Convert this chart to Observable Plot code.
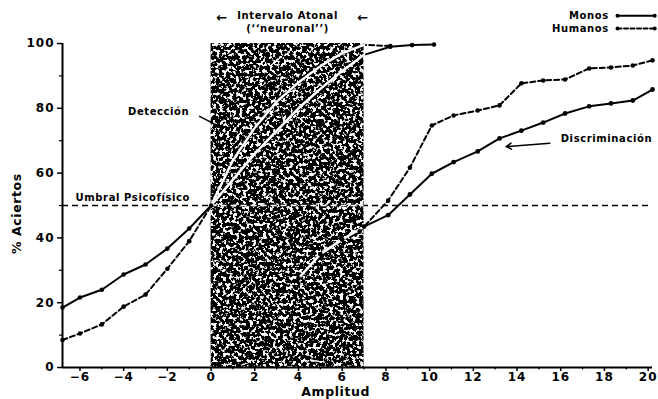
<!DOCTYPE html>
<html>
<head>
<meta charset="utf-8">
<script src="https://cdn.jsdelivr.net/npm/d3@7"></script>
<script src="https://cdn.jsdelivr.net/npm/@observablehq/plot@0.6"></script>
<style>
  html, body { margin: 0; padding: 0; background: #fff; }
  svg { display: block; }
  svg text { letter-spacing: 0.6px; }
  svg g[aria-label="x-axis tick label"] text, svg g[aria-label="y-axis tick label"] text { letter-spacing: 1px; }
</style>
</head>
<body>
<div id="chart"></div>
<script>
// ---- Data ----
const atonalInterval = [0, 7];
const threshold = 50;

const detAmp      = [-6.8, -6, -5, -4, -3, -2, -1, 0, 1, 2, 3, 4, 5, 6, 7, 8.2, 9.2, 10.2];
const detMonos    = [18.5, 21.6, 24, 28.7, 31.8, 36.7, 42.9, 50, 58, 66, 73, 80, 86, 91.5, 96.5, 99, 99.5, 99.7];
const detHumAmp   = [-6.8, -6, -5, -4, -3, -2, -1, 0, 1, 2, 3, 4, 5, 6, 7, 8.2];
const detHumanos  = [8.5, 10.5, 13.3, 18.8, 22.5, 30.5, 39, 50, 64, 74, 82, 88, 93, 97, 99.6, 99.2];

const disAmp      = [4, 5, 6, 7, 8.1, 9.1, 10.1, 11.1, 12.2, 13.2, 14.2, 15.2, 16.2, 17.3, 18.3, 19.3, 20.2];
const disMonos    = [27.5, 35, 39.5, 43.5, 47, 53.4, 59.8, 63.4, 66.7, 70.7, 73.1, 75.6, 78.4, 80.6, 81.5, 82.4, 85.8];
const disHumAmp   = [6.8, 8.1, 9.1, 10.1, 11.1, 12.2, 13.2, 14.2, 15.2, 16.2, 17.3, 18.3, 19.3, 20.2];
const disHumanos  = [42, 51.5, 61.7, 74.7, 77.8, 79.3, 80.9, 87.7, 88.6, 88.9, 92.3, 92.6, 93.2, 94.8];

const xTicks = [-6, -4, -2, 0, 2, 4, 6, 8, 10, 12, 14, 16, 18, 20];
const xMinorTicks = [-5, -3, -1, 1, 3, 5, 7, 9, 11, 13, 15, 17, 19];
const yTicks = [0, 20, 40, 60, 80, 100];
const yMinorTicks = [10, 30, 50, 70, 90];

const notes = [
  {text: "Detección", x: -2.4, y: 79, anchor: "middle"},
  {text: "Umbral Psicofísico", x: -6.2, y: 52.5, anchor: "start"},
  {text: "Discriminación", x: 16.0, y: 70.7, anchor: "start"}
];
const headerLines = [
  {text: "Intervalo Atonal", x: 3.5, y: 108.6},
  {text: "(‘‘neuronal’’)", x: 3.5, y: 104.6}
];
const headerArrows = [{x: 0.5, y: 107.8}, {x: 6.95, y: 107.8}];
const legendItems = [
  {label: "Monos", y: 108.6, dash: null},
  {label: "Humanos", y: 104.6, dash: "4,2.5"}
];

// ---- Build rows ----
const rows = (xs, ys) => xs.map((x, i) => ({x, y: ys[i]}));
const sMonosDet = rows(detAmp, detMonos);
const sHumDet = rows(detHumAmp, detHumanos);
const sMonosDis = rows(disAmp, disMonos);
const sHumDis = rows(disHumAmp, disHumanos);
const inBox = d => d.x >= atonalInterval[0] && d.x <= atonalInterval[1];

const solid = {stroke: "black", strokeWidth: 2};
const dashed = {stroke: "black", strokeWidth: 2, strokeDasharray: "5,3"};
const font = "'DejaVu Sans', Verdana, sans-serif";

const legendLines = legendItems.flatMap(d => [{x: 18.6, y: d.y, dash: d.dash}, {x: 20.3, y: d.y, dash: d.dash}]);

const chart = Plot.plot({
  width: 658,
  height: 399,
  marginLeft: 62,
  marginRight: 6,
  marginTop: 43,
  marginBottom: 32,
  x: {domain: [-6.8, 20.2]},
  y: {domain: [0, 100]},
  style: {fontFamily: font, fontWeight: "bold", fontSize: "12px", color: "black", background: "white"},
  marks: [
    // atonal interval box
    Plot.rect([atonalInterval], {x1: d => d[0], x2: d => d[1], y1: 0, y2: 100, fill: "black"}),
    // threshold
    Plot.ruleY([threshold], {stroke: "black", strokeWidth: 1.5, strokeDasharray: "6,4"}),
    Plot.ruleY([threshold], {x1: atonalInterval[0], x2: atonalInterval[1], stroke: "white", strokeWidth: 1.5, strokeDasharray: "6,4"}),
    // curves
    Plot.line(sMonosDet, {x: "x", y: "y", ...solid}),
    Plot.line(sHumDet, {x: "x", y: "y", ...dashed}),
    Plot.line(sMonosDis, {x: "x", y: "y", ...solid}),
    Plot.line(sHumDis, {x: "x", y: "y", ...dashed}),
    // in-box segments drawn light
    Plot.line(sMonosDet.filter(inBox), {x: "x", y: "y", stroke: "white", strokeWidth: 2.5}),
    Plot.line(sHumDet.filter(inBox), {x: "x", y: "y", stroke: "white", strokeWidth: 2.5, strokeDasharray: "7,2"}),
    Plot.line(sMonosDis.filter(inBox), {x: "x", y: "y", stroke: "white", strokeWidth: 2.5}),
    Plot.line(sHumDis.filter(inBox), {x: "x", y: "y", stroke: "white", strokeWidth: 2.5}),
    // dots
    Plot.dot(sMonosDet.filter(d => !inBox(d) || d.x === 0), {x: "x", y: "y", r: 2.3, fill: "black"}),
    Plot.dot(sHumDet.filter(d => !inBox(d)), {x: "x", y: "y", r: 2.3, fill: "black"}),
    Plot.dot(sMonosDis, {x: "x", y: "y", r: 2.4, fill: "black"}),
    Plot.dot(sHumDis, {x: "x", y: "y", r: 2.3, fill: "black"}),
    // axes
    Plot.ruleY([0], {stroke: "black", strokeWidth: 2}),
    Plot.ruleX([-6.8], {y1: 0, y2: 100, stroke: "black", strokeWidth: 2}),
    Plot.axisX({ticks: xTicks, tickSize: 4, tickPadding: 1, strokeWidth: 1.5, label: null, fontSize: 12}),
    Plot.axisX({ticks: xMinorTicks, tickSize: 2.5, tickFormat: () => "", strokeWidth: 1.2, label: null}),
    Plot.axisY({ticks: yTicks, tickSize: 5, tickPadding: 3, strokeWidth: 1.5, label: null, fontSize: 12}),
    Plot.axisY({ticks: yMinorTicks, tickSize: 3, tickFormat: () => "", strokeWidth: 1.2, label: null}),
    Plot.text(["Amplitud"], {x: 5.7, y: 0, dy: 24, fontSize: 12.5, fontWeight: "bold", text: d => d}),
    Plot.text(["% Aciertos"], {x: -6.8, y: 47.5, dx: -46, rotate: -90, fontSize: 12.5, fontWeight: "bold", text: d => d}),
    // annotations
    Plot.text(notes.filter(d => d.anchor === "middle"), {x: "x", y: "y", text: "text", textAnchor: "middle", fontSize: 10, fontWeight: "bold"}),
    Plot.text(notes.filter(d => d.anchor === "start"), {x: "x", y: "y", text: "text", textAnchor: "start", fontSize: 10, fontWeight: "bold"}),
    Plot.link([{x1: -0.55, y1: 77.6, x2: 0.55, y2: 73.8}], {x1: "x1", y1: "y1", x2: "x2", y2: "y2", stroke: "black", strokeWidth: 1.5}),
    Plot.arrow([{x1: 15.5, y1: 69.2, x2: 13.5, y2: 68.2}], {x1: "x1", y1: "y1", x2: "x2", y2: "y2", stroke: "black", strokeWidth: 1.5, headLength: 6}),
    // header
    Plot.text(headerLines, {x: "x", y: "y", text: "text", fontSize: 10, fontWeight: "bold"}),
    Plot.text(headerArrows, {x: "x", y: "y", text: () => "←", fontSize: 13, fontWeight: "bold"}),
    // legend
    Plot.text(legendItems, {x: 18.2, y: "y", text: "label", textAnchor: "end", fontSize: 10, fontWeight: "bold"}),
    Plot.line(legendLines.filter(d => !d.dash), {x: "x", y: "y", stroke: "black", strokeWidth: 2}),
    Plot.line(legendLines.filter(d => d.dash), {x: "x", y: "y", stroke: "black", strokeWidth: 2, strokeDasharray: "4,2.5"}),
    Plot.dot(legendLines, {x: "x", y: "y", r: 2, fill: "black"})
  ]
});

document.getElementById("chart").append(chart);

// speckled texture for the atonal interval box
const svg = d3.select(chart.tagName.toLowerCase() === "svg" ? chart : chart.querySelector("svg"));
svg.insert("defs", ":first-child").html(`
  <filter id="speckle" filterUnits="objectBoundingBox" x="0" y="0" width="1" height="1">
    <feTurbulence type="fractalNoise" baseFrequency="0.3" numOctaves="3" seed="7" result="n"/>
    <feColorMatrix in="n" type="matrix" values="0 0 0 0 1  0 0 0 0 1  0 0 0 0 1  12 0 0 0 -6.5" result="w"/>
    <feComposite in="w" in2="SourceAlpha" operator="in" result="wc"/>
    <feMerge><feMergeNode in="SourceGraphic"/><feMergeNode in="wc"/></feMerge>
  </filter>`);
svg.select('g[aria-label="rect"] rect').attr("filter", "url(#speckle)");
</script>
</body>
</html>
